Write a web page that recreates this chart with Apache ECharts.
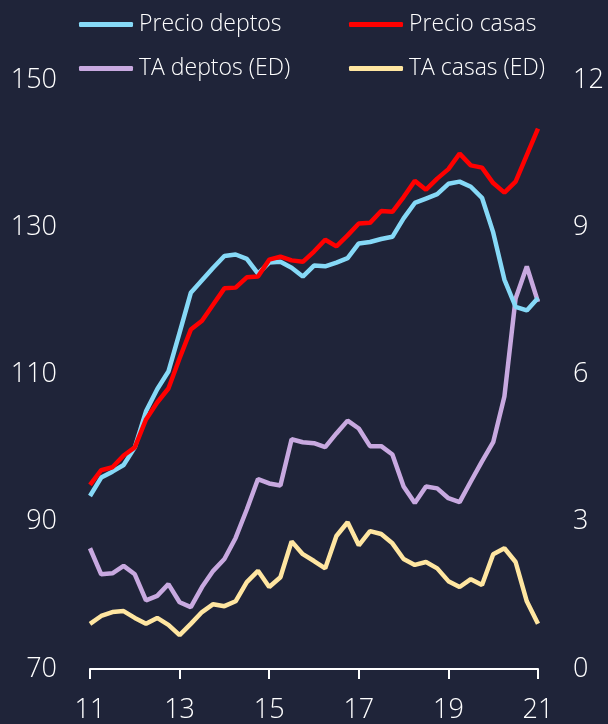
<!DOCTYPE html>
<html>
<head>
<meta charset="utf-8">
<script src="https://cdn.jsdelivr.net/npm/echarts@6/dist/echarts.min.js"></script>
<style>
html,body{margin:0;padding:0;background:#1f2439;}
#c{width:608px;height:724px;}
</style>
</head>
<body>
<div id="c"></div>
<script>
// Quarterly categories 2011Q1 .. 2021Q1
const years = [2011,2012,2013,2014,2015,2016,2017,2018,2019,2020,2021];
const tickLabels = ["11","13","15","17","19","21"];

const precioDeptos = [93.5,96.0,96.8,97.7,100.1,105.0,108.0,110.4,115.7,121.1,122.8,124.5,126.1,126.3,125.7,123.7,125.2,125.3,124.5,123.3,124.8,124.7,125.2,125.8,127.8,128.0,128.4,128.7,131.2,133.3,133.9,134.5,135.9,136.2,135.5,134.0,129.3,122.9,119.2,118.7,120.4];
const precioCasas = [95.0,97.0,97.4,99.0,100.1,103.9,106.2,108.1,112.2,116.1,117.3,119.5,121.7,121.8,123.2,123.3,125.6,126.0,125.5,125.3,126.7,128.3,127.4,128.9,130.5,130.6,132.2,132.1,134.1,136.3,135.1,136.6,137.9,140.0,138.4,138.1,136.0,134.7,136.2,139.8,143.4];
const taDeptos = [2.46,1.93,1.95,2.10,1.93,1.40,1.49,1.73,1.36,1.26,1.67,2.00,2.24,2.67,3.25,3.87,3.78,3.74,4.68,4.62,4.60,4.52,4.80,5.06,4.90,4.54,4.54,4.37,3.72,3.38,3.72,3.68,3.48,3.40,3.82,4.23,4.62,5.55,7.55,8.20,7.48];
const taCasas = [0.92,1.08,1.16,1.18,1.04,0.92,1.04,0.90,0.69,0.92,1.16,1.32,1.28,1.38,1.77,2.00,1.67,1.87,2.60,2.34,2.20,2.05,2.71,2.99,2.52,2.81,2.75,2.56,2.24,2.12,2.18,2.05,1.79,1.67,1.83,1.71,2.34,2.46,2.18,1.38,0.92];

const categories = [];
years.forEach(y => { for (let q = 1; q <= 4; q++) { if (y === 2021 && q > 1) break; categories.push(y + "Q" + q); } });

const FONT = "'Open Sans', sans-serif";
const TXT = '#ffffff';
const C_BLUE = '#86d9f7', C_RED = '#ff0000', C_PURPLE = '#c8a9e0', C_YELLOW = '#ffe6a1';
const AX_FS = 27;

function isTick(i){ return i % 8 === 0; }

const chart = echarts.init(document.getElementById('c'), null, {renderer:'canvas'});
function leg(name, left, top){
  return {
    data:[name], left:left, top:top, icon:'roundRect', itemWidth:54, itemHeight:5,
    itemGap:0, padding:0,
    textStyle:{color:TXT, fontSize:23, fontFamily:FONT, fontWeight:300, padding:[0,0,0,1]}
  };
}
chart.setOption({
  backgroundColor:'#1f2439',
  animation:false,
  legend:[
    leg('Precio deptos', 79, 13),
    leg('Precio casas', 349, 13),
    leg('TA deptos (ED)', 79, 57),
    leg('TA casas (ED)', 349, 57)
  ],
  grid:{left:90, right:70, top:80, bottom:55, containLabel:false},
  xAxis:{
    type:'category', data:categories, boundaryGap:false,
    axisLine:{show:true, lineStyle:{color:TXT, width:2}},
    axisTick:{show:true, length:10, lineStyle:{color:TXT, width:2}, interval:(i)=>isTick(i)},
    axisLabel:{color:TXT, fontSize:AX_FS, fontFamily:FONT, fontWeight:300, margin:28,
      interval:(i)=>isTick(i), formatter:(v,i)=> tickLabels[i/8]},
    splitLine:{show:false}
  },
  yAxis:[
    {type:'value', min:70, max:150, interval:20, position:'left',
     axisLine:{show:false}, axisTick:{show:false}, splitLine:{show:false},
     axisLabel:{color:TXT, fontSize:AX_FS, fontFamily:FONT, fontWeight:300, margin:33}},
    {type:'value', min:0, max:12, interval:3, position:'right',
     axisLine:{show:false}, axisTick:{show:false}, splitLine:{show:false},
     axisLabel:{color:TXT, fontSize:AX_FS, fontFamily:FONT, fontWeight:300, margin:35}}
  ],
  series:[
    {name:'Precio deptos', type:'line', data:precioDeptos, yAxisIndex:0, showSymbol:false,
     lineStyle:{color:C_BLUE, width:4.5}, itemStyle:{color:C_BLUE}, z:3},
    {name:'Precio casas', type:'line', data:precioCasas, yAxisIndex:0, showSymbol:false,
     lineStyle:{color:C_RED, width:4.5}, itemStyle:{color:C_RED}, z:4},
    {name:'TA deptos (ED)', type:'line', data:taDeptos, yAxisIndex:1, showSymbol:false,
     lineStyle:{color:C_PURPLE, width:4.5}, itemStyle:{color:C_PURPLE}, z:2},
    {name:'TA casas (ED)', type:'line', data:taCasas, yAxisIndex:1, showSymbol:false,
     lineStyle:{color:C_YELLOW, width:4.5}, itemStyle:{color:C_YELLOW}, z:1}
  ]
});
</script>
</body>
</html>
